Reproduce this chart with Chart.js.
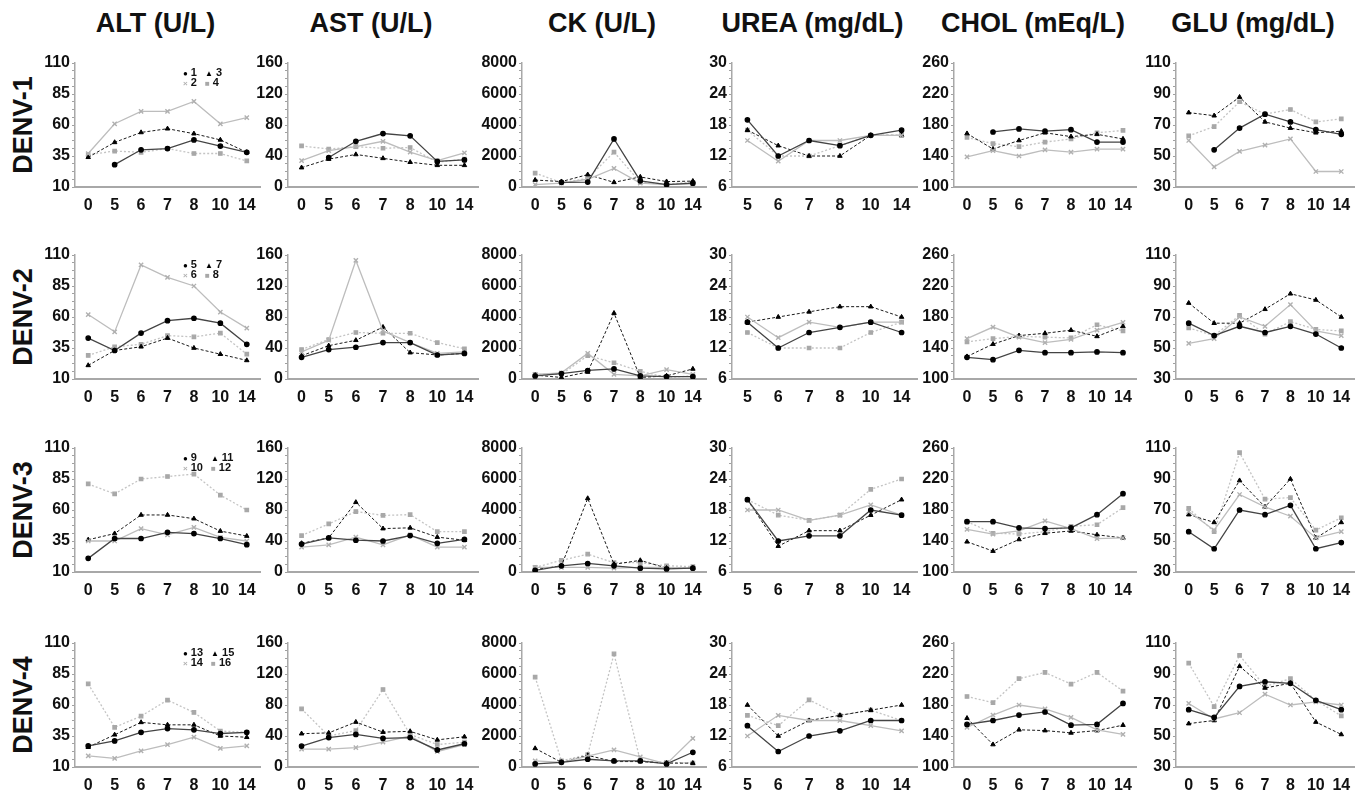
<!DOCTYPE html>
<html>
<head>
<meta charset="utf-8">
<script src="https://cdn.jsdelivr.net/npm/chart.js@4.4.0/dist/chart.umd.min.js"></script>
<style>
  body { margin:0; background:#fff; width:1361px; height:791px; overflow:hidden; position:relative;
         font-family:"Liberation Sans", Arial, sans-serif; }
  canvas { position:absolute; }
  .titulo { position:absolute; top:8px; font-weight:bold; font-size:27px; transform:translateX(-50%); white-space:nowrap; color:#111; }
  .fila { position:absolute; font-weight:bold; font-size:27px; transform:translate(-50%,-50%) rotate(-90deg); white-space:nowrap; color:#111; }
  .leyenda { position:absolute; display:grid; grid-template-rows:10px 10px; grid-auto-flow:column; column-gap:8px;
             font-size:11px; font-weight:bold; line-height:10px; color:#111; }
  .leyenda span.m { font-size:8px; margin-right:3px; }
</style>
</head>
<body>
<script>
// dias post infeccion
let dias = ['0', '5', '6', '7', '8', '10', '14']
let diasUrea = ['5', '6', '7', '8', '10', '14']

let pruebas = ['ALT (U/L)', 'AST (U/L)', 'CK (U/L)', 'UREA (mg/dL)', 'CHOL (mEq/L)', 'GLU (mg/dL)']
let serotipos = ['DENV-1', 'DENV-2', 'DENV-3', 'DENV-4']
let pacientes = [['1', '2', '3', '4'], ['5', '6', '7', '8'], ['9', '10', '11', '12'], ['13', '14', '15', '16']]

// rango de cada eje y
let ejeMin = [10, 0, 0, 6, 100, 30]
let ejeMax = [110, 160, 8000, 30, 260, 110]
let ejePaso = [25, 40, 2000, 6, 40, 20]

// DENV-1
let alt1 = [
    [null, 28, 40, 41, 48, 43, 38],
    [37, 61, 71, 71, 79, 61, 66],
    [34, 46, 54, 57, 53, 48, 38],
    [36, 39, 38, 41, 37, 37, 31]
]
let ast1 = [
    [null, 38, 59, 69, 66, 33, 35],
    [34, 47, 52, 59, 45, 34, 44],
    [25, 36, 42, 37, 32, 28, 28],
    [53, 49, 52, 50, 51, 32, 36]
]
let ck1 = [
    [null, 300, 320, 3100, 400, 150, 250],
    [150, 250, 500, 1200, 250, 150, 200],
    [450, 350, 800, 300, 650, 350, 380],
    [900, 280, 550, 2250, 300, 200, 300]
]
let urea1 = [
    [19, 12, 15, 14, 16, 17],
    [15, 11, 15, 15, 16, 16],
    [17, 14, 12, 12, 16, 16],
    [17, 12, 12, 14, 16, 16]
]
let chol1 = [
    [null, 171, 175, 172, 174, 158, 158],
    [139, 147, 140, 148, 145, 149, 149],
    [169, 149, 160, 170, 165, 168, 162],
    [164, 156, 152, 158, 162, 170, 173]
]
let glu1 = [
    [null, 54, 68, 77, 72, 67, 64],
    [60, 43, 53, 57, 61, 40, 40],
    [78, 76, 88, 72, 68, 65, 66],
    [63, 69, 85, 77, 80, 72, 74]
]

// DENV-2
let alt2 = [
    [43, 33, 47, 57, 59, 55, 38],
    [62, 48, 102, 92, 85, 64, 51],
    [21, 33, 36, 43, 35, 30, 25],
    [29, 36, 38, 45, 44, 47, 30]
]
let ast2 = [
    [28, 38, 41, 47, 47, 31, 33],
    [35, 50, 153, 62, 47, 33, 35],
    [30, 43, 50, 67, 34, 31, 33],
    [38, 51, 60, 59, 59, 47, 39]
]
let ck2 = [
    [200, 350, 550, 650, 200, 150, 150],
    [300, 400, 1650, 300, 200, 600, 300],
    [250, 100, 450, 4250, 100, 200, 650],
    [300, 300, 1500, 1050, 500, 100, 200]
]
let urea2 = [
    [17, 12, 15, 16, 17, 15],
    [18, 14, 17, 16, 17, 17],
    [17, 18, 19, 20, 20, 18],
    [15, 12, 12, 12, 15, 17]
]
let chol2 = [
    [128, 125, 137, 134, 134, 135, 134],
    [152, 167, 154, 147, 151, 163, 173],
    [129, 145, 156, 159, 163, 155, 168],
    [148, 152, 155, 154, 153, 170, 162]
]
let glu2 = [
    [66, 58, 64, 60, 64, 59, 50],
    [53, 56, 70, 64, 78, 61, 58],
    [79, 66, 66, 75, 85, 81, 70],
    [63, 58, 71, 59, 67, 62, 61]
]

// DENV-3
let alt3 = [
    [21, 37, 37, 42, 41, 37, 32],
    [35, 35, 45, 40, 46, 38, 35],
    [36, 41, 56, 56, 53, 43, 39],
    [81, 73, 85, 87, 89, 72, 60]
]
let ast3 = [
    [36, 44, 41, 40, 47, 37, 42],
    [32, 35, 45, 35, 48, 32, 32],
    [37, 44, 90, 56, 57, 45, 41],
    [47, 62, 78, 73, 74, 52, 52]
]
let ck3 = [
    [100, 400, 550, 400, 250, 200, 250],
    [300, 300, 300, 250, 300, 300, 250],
    [150, 400, 4750, 500, 750, 250, 250],
    [300, 750, 1150, 600, 600, 400, 350]
]
let urea3 = [
    [20, 12, 13, 13, 18, 17],
    [18, 18, 16, 17, 19, 17],
    [20, 11, 14, 14, 17, 20],
    [20, 17, 16, 17, 22, 24]
]
let chol3 = [
    [165, 165, 157, 156, 157, 174, 201],
    [155, 149, 153, 166, 156, 143, 144],
    [139, 127, 142, 150, 153, 148, 144],
    [165, 150, 149, 152, 159, 161, 183]
]
let glu3 = [
    [56, 45, 70, 67, 73, 45, 49],
    [69, 57, 80, 72, 66, 52, 56],
    [67, 62, 89, 72, 90, 52, 62],
    [71, 56, 107, 77, 78, 57, 65]
]

// DENV-4
let alt4 = [
    [27, 31, 38, 41, 40, 37, 38],
    [19, 17, 23, 28, 34, 25, 27],
    [26, 36, 46, 44, 44, 35, 34],
    [77, 42, 51, 64, 54, 39, 38]
]
let ast4 = [
    [27, 38, 42, 37, 38, 22, 30],
    [23, 23, 25, 32, 40, 20, 29],
    [43, 44, 58, 45, 46, 35, 39],
    [75, 40, 47, 100, 42, 29, 32]
]
let ck4 = [
    [200, 300, 500, 400, 400, 200, 950],
    [400, 300, 700, 1100, 650, 200, 1850],
    [1200, 300, 750, 350, 350, 250, 250],
    [5800, 400, 800, 7300, 400, 300, 250]
]
let urea4 = [
    [14, 9, 12, 13, 15, 15],
    [12, 16, 15, 15, 14, 13],
    [18, 12, 15, 16, 17, 18],
    [16, 14, 19, 16, 17, 15]
]
let chol4 = [
    [155, 160, 167, 171, 154, 155, 182],
    [151, 167, 180, 175, 164, 148, 142],
    [163, 129, 148, 147, 144, 147, 154],
    [191, 183, 214, 222, 207, 222, 198]
]
let glu4 = [
    [67, 62, 82, 85, 84, 73, 67],
    [71, 61, 65, 77, 70, 72, 70],
    [58, 60, 95, 81, 84, 59, 51],
    [97, 69, 102, 82, 87, 73, 63]
]

let tabla = [
    [alt1, ast1, ck1, urea1, chol1, glu1],
    [alt2, ast2, ck2, urea2, chol2, glu2],
    [alt3, ast3, ck3, urea3, chol3, glu3],
    [alt4, ast4, ck4, urea4, chol4, glu4]
]

// posiciones de cada panel (eje y, ancho del area)
let colX = [75, 288, 522, 732, 954, 1176]
let colW = [185, 190, 184, 185, 182, 178]
let filaY = [63, 255, 448, 643]
let altoPlot = 124
let anchoEje = 50
let margenTop = 12
let altoEjeX = 36
let margenDer = 8

let fuente = '"Liberation Sans", Arial, sans-serif'

let estilos = [
    { borderColor: '#444', borderWidth: 1.3, pointStyle: 'circle', pointRadius: 2.2,
      pointBackgroundColor: '#000', pointBorderColor: '#000' },
    { borderColor: '#bdbdbd', borderWidth: 1.3, pointStyle: 'crossRot', pointRadius: 3,
      pointBackgroundColor: '#b0b0b0', pointBorderColor: '#b0b0b0', pointBorderWidth: 1.4 },
    { borderColor: '#1a1a1a', borderWidth: 1, borderDash: [3, 2], pointStyle: 'triangle', pointRadius: 2.6,
      pointBackgroundColor: '#000', pointBorderColor: '#000' },
    { borderColor: '#c4c4c4', borderWidth: 1.3, borderDash: [2, 2], pointStyle: 'rect', pointRadius: 2.4,
      pointBackgroundColor: '#a8a8a8', pointBorderColor: '#a8a8a8' }
]

let glifos = { circle: '\u25CF', crossRot: '\u00D7', triangle: '\u25B2', rect: '\u25A0' }

Chart.defaults.font.family = fuente
Chart.defaults.font.weight = 'bold'
Chart.defaults.color = '#111'

// titulos de columna
pruebas.forEach((p, c) => {
    let t = document.createElement('div')
    t.className = 'titulo'
    t.textContent = p
    t.style.left = (colX[c] + colW[c] / 2 - 12) + 'px'
    document.body.appendChild(t)
})

// etiquetas de fila
serotipos.forEach((s, f) => {
    let t = document.createElement('div')
    t.className = 'fila'
    t.textContent = s
    t.style.left = '23px'
    t.style.top = (filaY[f] + altoPlot / 2) + 'px'
    document.body.appendChild(t)
})

function hacerPanel(f, c) {
    let canvas = document.createElement('canvas')
    let w = anchoEje + colW[c] + margenDer
    let h = margenTop + altoPlot + altoEjeX
    canvas.width = w
    canvas.height = h
    canvas.style.left = (colX[c] - anchoEje) + 'px'
    canvas.style.top = (filaY[f] - margenTop) + 'px'
    document.body.appendChild(canvas)

    let etiquetas = c === 3 ? diasUrea : dias
    let series = tabla[f][c]
    let min = ejeMin[c], max = ejeMax[c], paso = ejePaso[c]

    let datasets = series.map((valores, i) => Object.assign({
        label: pacientes[f][i],
        data: valores,
        tension: 0,
        fill: false,
        spanGaps: false
    }, estilos[i]))

    let grafico = new Chart(canvas, {
        type: 'line',
        data: { labels: etiquetas, datasets: datasets },
        options: {
            responsive: false,
            animation: false,
            events: [],
            layout: { padding: { top: margenTop, right: margenDer, left: 0, bottom: 0 } },
            plugins: { legend: { display: false }, tooltip: { enabled: false } },
            scales: {
                x: {
                    offset: true,
                    afterFit: (s) => { s.height = altoEjeX },
                    grid: { display: false, drawTicks: false },
                    border: { display: true, color: '#a8a8a8', width: 2 },
                    ticks: { minRotation: 0, maxRotation: 0, padding: 9, autoSkip: false,
                             font: { size: 16, weight: 'bold' }, color: '#111' }
                },
                y: {
                    min: min,
                    max: max,
                    afterFit: (s) => { s.width = anchoEje },
                    grid: { display: true, drawOnChartArea: false, drawTicks: true, tickLength: 3, color: '#a0a0a0' },
                    border: { display: true, color: '#a8a8a8', width: 1.5 },
                    ticks: {
                        stepSize: paso / 4,
                        autoSkip: false,
                        padding: 2,
                        font: { size: 16, weight: 'bold' },
                        color: '#111',
                        callback: (v) => {
                            let k = (v - min) / paso
                            return Math.abs(k - Math.round(k)) < 1e-6 ? String(v) : ''
                        }
                    }
                }
            }
        }
    })

    // leyenda solo en la columna ALT
    if (c === 0) {
        let ley = document.createElement('div')
        ley.className = 'leyenda'
        ley.style.left = (colX[c] + 108) + 'px'
        ley.style.top = (filaY[f] + 4) + 'px'
        grafico.data.datasets.forEach(ds => {
            let item = document.createElement('div')
            item.innerHTML = `<span class="m" style="color:${ds.pointBackgroundColor}">${glifos[ds.pointStyle]}</span>${ds.label}`
            ley.appendChild(item)
        })
        document.body.appendChild(ley)
    }
}

for (let f = 0; f < 4; f++) {
    for (let c = 0; c < 6; c++) {
        hacerPanel(f, c)
    }
}
</script>
</body>
</html>
